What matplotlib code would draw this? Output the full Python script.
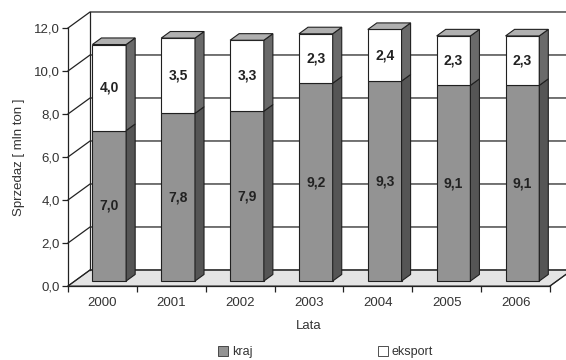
import numpy as np
import matplotlib
matplotlib.use('Agg')
import matplotlib.pyplot as plt
from matplotlib.patches import Patch

plt.rcParams['font.family'] = ['Liberation Sans', 'DejaVu Sans']
narrow = ['Liberation Sans Narrow', 'Liberation Sans']

# sales data [mln ton]
lata = ['2000', '2001', '2002', '2003', '2004', '2005', '2006']
kraj = [7.0, 7.8, 7.9, 9.2, 9.3, 9.1, 9.1]
eksport = [4.0, 3.5, 3.3, 2.3, 2.4, 2.3, 2.3]
y_ticks = [0, 2, 4, 6, 8, 10, 12]

# pseudo-3D depth of the plot box (data units) and bar placement inside it
depth_x, depth_y = 0.32, 0.745
bar_front = 0.31
bar_depth = 0.41
bar_w = 0.49

c_kraj, c_kraj_side = '#939393', '#555555'
c_eks, c_eks_side = '#ffffff', '#6a6a6a'
c_top = '#b0b0b0'

fig = plt.figure(figsize=(5.66, 3.6), dpi=100)
ax = fig.add_axes([68 / 566, 74 / 360, 482 / 566, 258 / 360])
n = len(lata)
x = np.arange(n)
x0, x1 = -0.5, n - 0.5
ax.set_xlim(x0, x1)
ax.set_ylim(0, 12)

# floor
ax.fill([x0, x1, x1 + depth_x, x0 + depth_x], [0, 0, depth_y, depth_y],
        facecolor='#e4e4e4', edgecolor='#404040', lw=0.8, zorder=1, clip_on=False)

# back wall + side wall gridlines
for v in y_ticks:
    ax.plot([x0, x0 + depth_x, x1 + depth_x + 1], [v, v + depth_y, v + depth_y],
            color='#222222', lw=0.9, zorder=1, clip_on=False)
ax.plot([x0 + depth_x, x0 + depth_x], [depth_y, 12 + depth_y],
        color='#222222', lw=0.9, zorder=1, clip_on=False)

# stacked bars: front faces via ax.bar, side and top faces as polygons
ox, oy = bar_front * depth_x, bar_front * depth_y
dx, dy = bar_depth * depth_x, bar_depth * depth_y
xf = x + ox
ax.bar(xf, kraj, bottom=oy, width=bar_w, color=c_kraj, edgecolor='#202020',
       lw=0.8, zorder=3)
ax.bar(xf, eksport, bottom=np.array(kraj) + oy, width=bar_w, color=c_eks,
       edgecolor='#202020', lw=0.8, zorder=3)
for i in range(n):
    r = xf[i] + bar_w / 2
    l = xf[i] - bar_w / 2
    b = oy
    m = kraj[i] + oy
    t = kraj[i] + eksport[i] + oy
    ax.fill([r, r + dx, r + dx, r], [b, b + dy, m + dy, m],
            facecolor=c_kraj_side, edgecolor='#202020', lw=0.8, zorder=3, clip_on=False)
    ax.fill([r, r + dx, r + dx, r], [m, m + dy, t + dy, t],
            facecolor=c_eks_side, edgecolor='#202020', lw=0.8, zorder=3, clip_on=False)
    ax.fill([l, r, r + dx, l + dx], [t, t, t + dy, t + dy],
            facecolor=c_top, edgecolor='#202020', lw=0.8, zorder=3, clip_on=False)
    ax.text(xf[i], oy + kraj[i] / 2, f'{kraj[i]:.1f}'.replace('.', ','),
            ha='center', va='center', fontsize=10, fontweight='bold',
            family=narrow, color='#222222', zorder=5)
    ax.text(xf[i], m + eksport[i] / 2, f'{eksport[i]:.1f}'.replace('.', ','),
            ha='center', va='center', fontsize=10, fontweight='bold',
            family=narrow, color='#222222', zorder=5)

# right edge of the floor
ax.plot([x1, x1 + depth_x], [0, depth_y], color='#222222', lw=0.9, clip_on=False)

# axes and ticks
for s in ['top', 'right']:
    ax.spines[s].set_visible(False)
for s in ['left', 'bottom']:
    ax.spines[s].set_color('#222222')
    ax.spines[s].set_linewidth(0.9)
    ax.spines[s].set_zorder(6)
ax.set_yticks(y_ticks)
ax.set_yticklabels([f'{v:.1f}'.replace('.', ',') for v in y_ticks], fontsize=9.5,
                   color='#333333')
ax.set_xticks(x)
ax.set_xticklabels(lata, fontsize=9.5, color='#333333', family=narrow)
ax.set_xticks(np.arange(n + 1) - 0.5, minor=True)
ax.tick_params(axis='x', which='major', length=0, pad=8)
ax.tick_params(axis='x', which='minor', length=4, width=0.9, color='#222222')
ax.tick_params(axis='y', length=4, width=0.9, color='#222222', pad=2)
ax.set_ylabel('Sprzedaz [ mln ton ]', fontsize=9.5, color='#333333', labelpad=6)
ax.set_xlabel('Lata', fontsize=9.5, color='#333333', labelpad=8)

handles = [Patch(facecolor=c_kraj, edgecolor='#333333', lw=0.6, label='kraj'),
           Patch(facecolor='white', edgecolor='#333333', lw=0.6, label='eksport')]
fig.legend(handles=handles, loc='center', bbox_to_anchor=(0.575, 0.022), ncol=2,
           frameon=False, fontsize=9, handlelength=0.8, handleheight=0.8,
           handletextpad=0.3, columnspacing=10, labelcolor='#333333')

fig.savefig('out.png', dpi=100)
